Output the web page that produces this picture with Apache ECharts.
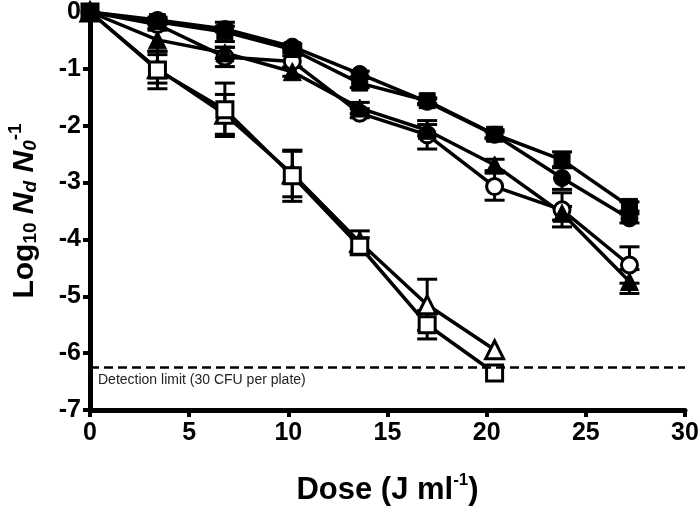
<!DOCTYPE html>
<html>
<head>
<meta charset="utf-8">
<script src="https://cdn.jsdelivr.net/npm/echarts@6/dist/echarts.min.js"></script>
<style>
html,body{margin:0;padding:0;background:#fff;}
#chart{width:700px;height:518px;}
</style>
</head>
<body>
<div id="chart"></div>
<script>
// Doses (J ml^-1)
const doses = [0, 3.4, 6.8, 10.2, 13.6, 17.0, 20.4, 23.8, 27.2];
const dosesShort = [0, 3.4, 6.8, 10.2, 13.6, 17.0, 20.4];

// Log10 Nd N0^-1 values
const filledCircle   = [0, -0.14, -0.30, -0.61, -1.09, -1.58, -2.16, -2.92, -3.63];
const filledSquare   = [0, -0.17, -0.35, -0.66, -1.25, -1.56, -2.15, -2.60, -3.42];
const filledTriangle = [0, -0.49, -0.72, -1.05, -1.69, -2.08, -2.69, -3.54, -4.74];
const openCircle     = [0, -0.22, -0.79, -0.87, -1.78, -2.16, -3.07, -3.48, -4.45];
const openSquare     = [0, -1.02, -1.72, -2.88, -4.12, -5.50, -6.35];
const openTriangle   = [0, -1.00, -1.80, -2.85, -4.05, -5.15, -5.94];

// error (±)
const errFilledCircle   = [0, 0.05, 0.05, 0.05, 0.05, 0.05, 0.05, 0.20, 0.08];
const errFilledSquare   = [0, 0.05, 0.17, 0.05, 0.08, 0.05, 0.08, 0.14, 0.08];
const errFilledTriangle = [0, 0.20, 0.10, 0.08, 0.10, 0.10, 0.10, 0.12, 0.21];
const errOpenCircle     = [0, 0.10, 0.17, 0.10, 0.08, 0.25, 0.24, 0.30, 0.32];
const errOpenSquare     = [0, 0.33, 0.47, 0.45, 0.15, 0.25, 0];
const errOpenTriangle   = [0, 0.25, 0.35, 0.40, 0.20, 0.45, 0];

const detectionLimit = -6.24;
const xTicks = [0, 5, 10, 15, 20, 25, 30];
const yTicks = [0, -1, -2, -3, -4, -5, -6, -7];

const FONT = "'Liberation Sans Narrow', 'Liberation Sans', Arial, sans-serif";

function pairs(xs, ys) { return ys.map((v, i) => [xs[i], v]); }
function errData(xs, ys, es) { return ys.map((v, i) => [xs[i], v, es[i]]); }

function lineSeries(name, xs, ys, symbol, filled, size) {
  return {
    name: name, type: 'line', data: pairs(xs, ys),
    symbol: symbol, symbolSize: size,
    lineStyle: { color: '#000', width: 3.5 },
    itemStyle: filled ? { color: '#000', borderColor: '#000', borderWidth: 1 }
                      : { color: '#fff', borderColor: '#000', borderWidth: 3 },
    z: 3, animation: false
  };
}

function errSeries(xs, ys, es) {
  return {
    type: 'custom',
    data: errData(xs, ys, es),
    renderItem: function (params, api) {
      const x = api.value(0), y = api.value(1), e = api.value(2);
      if (!e) return null;
      const top = api.coord([x, y + e]);
      const bot = api.coord([x, y - e]);
      const hw = 10;
      const st = { stroke: '#000', lineWidth: 3 };
      return {
        type: 'group',
        children: [
          { type: 'line', shape: { x1: top[0], y1: top[1], x2: bot[0], y2: bot[1] }, style: st },
          { type: 'line', shape: { x1: top[0] - hw, y1: top[1], x2: top[0] + hw, y2: top[1] }, style: st },
          { type: 'line', shape: { x1: bot[0] - hw, y1: bot[1], x2: bot[0] + hw, y2: bot[1] }, style: st }
        ]
      };
    },
    z: 2, animation: false
  };
}

const chart = echarts.init(document.getElementById('chart'), null, { renderer: 'canvas' });

const option = {
  backgroundColor: '#fff',
  animation: false,
  grid: { left: 90, right: 15, top: 12, bottom: 108, containLabel: false, outerBoundsMode: 'none' },
  xAxis: {
    type: 'value', min: 0, max: 30, interval: 5,
    axisLine: { onZero: false, lineStyle: { color: '#000', width: 5 } },
    axisTick: { length: 7, lineStyle: { color: '#000', width: 4 } },
    axisLabel: { color: '#000', fontSize: 25, fontWeight: 'bold', fontFamily: FONT, margin: 11,
      formatter: v => xTicks.indexOf(v) >= 0 ? String(v) : '' },
    splitLine: { show: false },
    name: '{a|Dose (J ml}{s|-1}{a|)}',
    nameLocation: 'middle', nameGap: 62,
    nameTextStyle: {
      rich: {
        a: { fontSize: 31, fontWeight: 'bold', fontFamily: FONT, color: '#000', lineHeight: 34, verticalAlign: 'bottom' },
        s: { fontSize: 17, fontWeight: 'bold', fontFamily: FONT, color: '#000', lineHeight: 34, verticalAlign: 'top' }
      }
    }
  },
  yAxis: {
    type: 'value', min: -7, max: 0, interval: 1,
    axisLine: { onZero: false, lineStyle: { color: '#000', width: 5 } },
    axisTick: { length: 7, lineStyle: { color: '#000', width: 4 } },
    axisLabel: { color: '#000', fontSize: 25, fontWeight: 'bold', fontFamily: FONT, margin: 9,
      formatter: v => yTicks.indexOf(v) >= 0 ? String(v) : '' },
    splitLine: { show: false },
    name: '{a|Log}{sub|10}{a| }{i|N}{isub|d}{a| }{i|N}{isub|0}{sup|-1}',
    nameLocation: 'middle', nameGap: 50,
    nameTextStyle: {
      rich: {
        a: { fontSize: 30, fontWeight: 'bold', fontFamily: FONT, color: '#000', lineHeight: 34, verticalAlign: 'bottom' },
        i: { fontSize: 30, fontWeight: 'bold', fontStyle: 'italic', fontFamily: FONT, color: '#000', lineHeight: 34, verticalAlign: 'bottom' },
        sub: { fontSize: 19, fontWeight: 'bold', fontFamily: FONT, color: '#000', lineHeight: 34, verticalAlign: 'bottom' },
        isub: { fontSize: 19, fontWeight: 'bold', fontStyle: 'italic', fontFamily: FONT, color: '#000', lineHeight: 34, verticalAlign: 'bottom' },
        sup: { fontSize: 19, fontWeight: 'bold', fontFamily: FONT, color: '#000', lineHeight: 34, verticalAlign: 'top' }
      }
    }
  },
  series: [
    errSeries(doses, filledCircle, errFilledCircle),
    errSeries(doses, filledSquare, errFilledSquare),
    errSeries(doses, filledTriangle, errFilledTriangle),
    errSeries(doses, openCircle, errOpenCircle),
    errSeries(dosesShort, openSquare, errOpenSquare),
    errSeries(dosesShort, openTriangle, errOpenTriangle),
    lineSeries('openCircle', doses, openCircle, 'circle', false, 16),
    lineSeries('filledTriangle', doses, filledTriangle, 'triangle', true, 18),
    lineSeries('filledCircle', doses, filledCircle, 'circle', true, 17),
    lineSeries('openTriangle', dosesShort, openTriangle, 'triangle', false, 18),
    Object.assign(lineSeries('openSquare', dosesShort, openSquare, 'rect', false, 16), {
      markLine: {
        silent: true, symbol: 'none', animation: false,
        lineStyle: { color: '#000', type: [9, 5], width: 2.5 },
        label: {
          show: true, position: 'insideStartBottom', distance: [8, 6],
          formatter: 'Detection limit (30 CFU per plate)',
          color: '#222', fontSize: 14, fontFamily: "'Liberation Sans', Arial, sans-serif"
        },
        data: [{ yAxis: detectionLimit }]
      }
    }),
    lineSeries('filledSquare', doses, filledSquare, 'rect', true, 16)
  ]
};
chart.setOption(option);
</script>
</body>
</html>
